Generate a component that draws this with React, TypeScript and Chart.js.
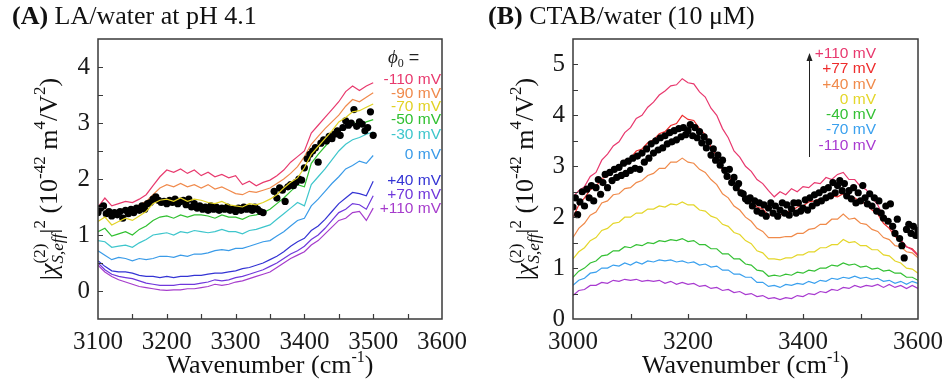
import React, { useEffect, useRef } from 'react';
import { Chart, registerables } from 'chart.js';
Chart.register(...registerables);

const SERIF = '"Liberation Serif", "Times New Roman", Times, serif';
const SANS = '"Liberation Sans", Arial, Helvetica, sans-serif';

// ---------- Panel A data (LA/water at pH 4.1), x = 3100..3500 step 10 ----------
const A_START = 3100, A_END = 3500, A_STEP = 10;
const aXTicks = [3100, 3200, 3300, 3400, 3500, 3600];
const aYTicks = [0, 1, 2, 3, 4];
const aLabels = ['-110 mV', '-90 mV', '-70 mV', '-50 mV', '-30 mV', '0 mV', '+40 mV', '+70 mV', '+110 mV'];
const aColors = ['#e83a6e', '#f08a4c', '#e2d224', '#30c030', '#3ec6cc', '#3a9be8', '#3434d4', '#7038dc', '#a63ccc'];
const aM110 = [1.50, 1.66, 1.52, 1.56, 1.60, 1.58, 1.64, 1.72, 1.88, 2.04, 2.16, 2.12, 2.18, 2.10, 2.16, 2.06, 2.12, 2.04, 2.08, 2.02, 2.06, 1.90, 1.96, 1.88, 1.94, 1.98, 2.06, 2.16, 2.30, 2.40, 2.50, 2.82, 2.96, 3.10, 3.24, 3.38, 3.56, 3.66, 3.58, 3.66, 3.72];
const aM90 = [1.40, 1.48, 1.36, 1.44, 1.48, 1.46, 1.54, 1.60, 1.72, 1.84, 1.90, 1.86, 1.92, 1.86, 1.90, 1.84, 1.90, 1.82, 1.86, 1.80, 1.74, 1.72, 1.78, 1.76, 1.80, 1.84, 1.92, 2.00, 2.10, 2.22, 2.40, 2.62, 2.76, 2.90, 3.02, 3.14, 3.30, 3.42, 3.38, 3.46, 3.54];
const aM70 = [1.24, 1.32, 1.18, 1.24, 1.30, 1.26, 1.34, 1.42, 1.56, 1.62, 1.64, 1.60, 1.66, 1.60, 1.64, 1.62, 1.58, 1.56, 1.60, 1.54, 1.52, 1.50, 1.56, 1.54, 1.58, 1.64, 1.72, 1.84, 1.94, 2.02, 2.20, 2.44, 2.58, 2.72, 2.86, 3.02, 3.10, 3.20, 3.22, 3.28, 3.34];
const aM50 = [1.06, 1.12, 0.98, 1.02, 1.06, 1.00, 1.10, 1.16, 1.26, 1.32, 1.34, 1.30, 1.36, 1.32, 1.36, 1.36, 1.34, 1.30, 1.36, 1.32, 1.32, 1.28, 1.34, 1.36, 1.40, 1.46, 1.56, 1.66, 1.78, 1.90, 1.86, 2.28, 2.44, 2.58, 2.72, 2.86, 2.94, 3.02, 2.96, 3.02, 3.06];
const aM30 = [0.90, 0.88, 0.78, 0.80, 0.82, 0.78, 0.86, 0.92, 1.00, 1.02, 1.04, 1.00, 1.06, 1.04, 1.08, 1.06, 1.04, 1.06, 1.10, 1.06, 1.06, 1.02, 1.08, 1.10, 1.14, 1.18, 1.28, 1.38, 1.48, 1.58, 1.52, 1.90, 2.04, 2.18, 2.34, 2.50, 2.62, 2.70, 2.74, 2.80, 2.84];
const aZero = [0.72, 0.64, 0.56, 0.60, 0.58, 0.54, 0.58, 0.56, 0.58, 0.62, 0.62, 0.60, 0.64, 0.62, 0.66, 0.66, 0.68, 0.72, 0.74, 0.72, 0.76, 0.76, 0.80, 0.84, 0.88, 0.90, 0.98, 1.06, 1.16, 1.26, 1.30, 1.52, 1.64, 1.78, 1.92, 2.04, 2.18, 2.24, 2.32, 2.28, 2.42];
const aP40 = [0.54, 0.44, 0.36, 0.34, 0.34, 0.32, 0.28, 0.26, 0.26, 0.24, 0.26, 0.24, 0.26, 0.26, 0.28, 0.28, 0.30, 0.32, 0.32, 0.34, 0.36, 0.40, 0.42, 0.46, 0.50, 0.56, 0.62, 0.70, 0.80, 0.88, 0.94, 1.08, 1.16, 1.28, 1.42, 1.56, 1.66, 1.76, 1.74, 1.70, 1.96];
const aP70 = [0.50, 0.38, 0.30, 0.26, 0.24, 0.22, 0.18, 0.14, 0.12, 0.10, 0.10, 0.10, 0.12, 0.12, 0.12, 0.14, 0.16, 0.20, 0.18, 0.20, 0.24, 0.26, 0.30, 0.34, 0.38, 0.44, 0.50, 0.58, 0.66, 0.72, 0.80, 0.92, 1.00, 1.12, 1.26, 1.40, 1.46, 1.56, 1.54, 1.46, 1.70];
const aP110 = [0.46, 0.34, 0.26, 0.20, 0.16, 0.12, 0.08, 0.06, 0.04, 0.02, 0.01, 0.02, 0.02, 0.04, 0.04, 0.06, 0.08, 0.12, 0.10, 0.12, 0.16, 0.18, 0.22, 0.26, 0.30, 0.34, 0.42, 0.50, 0.58, 0.64, 0.70, 0.82, 0.90, 1.02, 1.14, 1.26, 1.30, 1.40, 1.42, 1.26, 1.48];
// black dots, x = 3100..3500 step 4 (null = no point)
const DOT_A_START = 3100, DOT_A_END = 3500, DOT_A_STEP = 4;
const aDots = [
  1.40, 1.48, 1.52, 1.38, 1.42, 1.34, 1.40, 1.36, 1.42, 1.30,
  1.44, 1.38, 1.46, 1.40, 1.48, 1.44, 1.52, 1.46, 1.56, 1.58,
  1.64, 1.68, 1.62, 1.58, 1.60, 1.56, 1.62, 1.58, 1.64, 1.56,
  1.60, 1.62, 1.54, 1.64, 1.50, 1.56, 1.48, 1.52, 1.46, 1.50,
  1.44, 1.52, 1.46, 1.50, 1.44, 1.48, 1.46, 1.50, 1.44, 1.46,
  1.42, 1.48, 1.44, 1.50, 1.46, 1.48, 1.44, 1.50, 1.46, 1.42,
  1.40, null, null, null,
  1.78, 1.66, 1.84, 1.80, 1.60, 1.86, 1.90, 1.88, 1.94, 2.00,
  1.98, 2.20, 2.36, 2.44, 2.50, 2.56, 2.30, 2.64, 2.70, 2.68,
  2.76, 2.72, 2.80, 2.86, 2.78, 2.92, 3.04, 2.96, 3.00, 3.24,
  2.94, 3.02, 2.98, 2.86, 2.92, 3.20, 2.78
];

// ---------- Panel B data (CTAB/water), x = 3000..3600 step 10 ----------
const B_START = 3000, B_END = 3600, B_STEP = 10;
const bXTicks = [3000, 3200, 3400, 3600];
const bYTicks = [0, 1, 2, 3, 4, 5];
const bLabels = ['+110 mV', '+77 mV', '+40 mV', '0 mV', '-40 mV', '-70 mV', '-110 mV'];
const bColors = ['#e8386e', '#ee2c2c', '#f08a4a', '#e4d62a', '#34c034', '#3aa0ee', '#a83ad0'];
const bP110 = [2.40, 2.52, 2.60, 2.80, 2.88, 3.12, 3.24, 3.40, 3.48, 3.66, 3.76, 3.94, 4.00, 4.16, 4.26, 4.40, 4.48, 4.58, 4.60, 4.72, 4.64, 4.62, 4.46, 4.36, 4.14, 4.00, 3.74, 3.56, 3.30, 3.18, 3.00, 2.90, 2.74, 2.66, 2.52, 2.40, 2.50, 2.44, 2.56, 2.50, 2.60, 2.58, 2.68, 2.66, 2.78, 2.74, 2.84, 2.88, 2.74, 2.74, 2.60, 2.54, 2.38, 2.24, 2.02, 1.88, 1.64, 1.56, 1.42, 1.36, 1.24];
const bP77 = [2.00, 2.24, 2.38, 2.54, 2.60, 2.76, 2.80, 2.96, 3.00, 3.12, 3.16, 3.30, 3.34, 3.46, 3.52, 3.64, 3.68, 3.80, 3.84, 4.00, 3.92, 3.90, 3.74, 3.62, 3.38, 3.20, 2.92, 2.82, 2.64, 2.54, 2.40, 2.32, 2.20, 2.16, 2.04, 2.04, 2.04, 2.10, 2.12, 2.20, 2.22, 2.30, 2.32, 2.36, 2.36, 2.42, 2.40, 2.46, 2.38, 2.38, 2.30, 2.26, 2.14, 2.06, 1.88, 1.78, 1.62, 1.54, 1.42, 1.38, 1.26];
const bP40 = [1.60, 1.78, 1.88, 2.04, 2.10, 2.28, 2.32, 2.44, 2.46, 2.56, 2.58, 2.68, 2.72, 2.82, 2.86, 2.96, 2.96, 3.08, 3.08, 3.16, 3.08, 3.06, 2.94, 2.88, 2.74, 2.64, 2.46, 2.38, 2.22, 2.14, 2.00, 1.92, 1.78, 1.72, 1.60, 1.60, 1.60, 1.62, 1.62, 1.68, 1.68, 1.76, 1.78, 1.86, 1.86, 1.96, 1.96, 2.06, 1.96, 1.98, 1.88, 1.86, 1.76, 1.72, 1.60, 1.56, 1.44, 1.42, 1.32, 1.30, 1.20];
const bZero = [1.18, 1.32, 1.40, 1.54, 1.60, 1.74, 1.78, 1.88, 1.90, 2.00, 2.00, 2.08, 2.08, 2.16, 2.16, 2.22, 2.20, 2.26, 2.24, 2.30, 2.24, 2.24, 2.14, 2.12, 2.02, 1.98, 1.86, 1.82, 1.70, 1.66, 1.54, 1.48, 1.34, 1.30, 1.18, 1.18, 1.16, 1.20, 1.20, 1.26, 1.26, 1.32, 1.32, 1.40, 1.40, 1.46, 1.46, 1.56, 1.50, 1.52, 1.44, 1.44, 1.36, 1.36, 1.26, 1.24, 1.14, 1.10, 1.00, 0.98, 0.90];
const bM40 = [0.82, 0.94, 1.00, 1.10, 1.14, 1.24, 1.26, 1.34, 1.34, 1.42, 1.40, 1.46, 1.44, 1.50, 1.48, 1.54, 1.52, 1.56, 1.54, 1.58, 1.52, 1.54, 1.46, 1.46, 1.38, 1.38, 1.28, 1.28, 1.18, 1.18, 1.08, 1.06, 0.96, 0.94, 0.84, 0.86, 0.84, 0.88, 0.86, 0.92, 0.90, 0.96, 0.94, 1.00, 1.00, 1.06, 1.04, 1.10, 1.06, 1.08, 1.02, 1.04, 0.98, 1.00, 0.94, 0.96, 0.90, 0.90, 0.82, 0.82, 0.76];
const bM70 = [0.66, 0.76, 0.80, 0.90, 0.92, 1.00, 1.00, 1.06, 1.04, 1.10, 1.06, 1.12, 1.08, 1.14, 1.12, 1.16, 1.14, 1.16, 1.12, 1.14, 1.10, 1.12, 1.06, 1.08, 1.02, 1.04, 0.96, 0.96, 0.88, 0.88, 0.82, 0.82, 0.72, 0.72, 0.64, 0.66, 0.62, 0.68, 0.66, 0.70, 0.68, 0.74, 0.70, 0.76, 0.74, 0.80, 0.78, 0.82, 0.80, 0.84, 0.80, 0.82, 0.78, 0.80, 0.74, 0.76, 0.70, 0.74, 0.68, 0.74, 0.70];
const bM110 = [0.46, 0.56, 0.58, 0.66, 0.66, 0.72, 0.70, 0.76, 0.74, 0.78, 0.76, 0.78, 0.74, 0.76, 0.74, 0.76, 0.70, 0.74, 0.68, 0.72, 0.68, 0.70, 0.64, 0.66, 0.60, 0.62, 0.56, 0.58, 0.52, 0.54, 0.48, 0.50, 0.44, 0.46, 0.40, 0.42, 0.38, 0.42, 0.40, 0.46, 0.44, 0.50, 0.48, 0.54, 0.52, 0.58, 0.56, 0.62, 0.60, 0.66, 0.62, 0.66, 0.64, 0.68, 0.62, 0.68, 0.62, 0.66, 0.60, 0.66, 0.60];
const DOT_B_START = 3000, DOT_B_END = 3600, DOT_B_STEP = 4;
const bDots = [
  2.20, 2.38, 2.05, 2.30, 2.50, 2.22, 2.55, 2.38, 2.62, 2.32,
  2.58, 2.74, 2.45, 2.68, 2.84, 2.58, 2.88, 2.72, 2.94, 2.78,
  2.98, 2.82, 3.06, 2.86, 3.10, 2.92, 3.16, 2.96, 3.20, 2.94,
  3.26, 3.08, 3.34, 3.16, 3.44, 3.26, 3.50, 3.32, 3.56, 3.36,
  3.60, 3.44, 3.66, 3.48, 3.70, 3.52, 3.74, 3.58, 3.76, 3.62,
  3.70, 3.82, 3.60, 3.76, 3.56, 3.68, 3.46, 3.58, 3.36, 3.48,
  3.22, 3.34, 3.12, 3.22, 3.02, 3.12, 2.92, 2.80, 2.94, 2.68,
  2.78, 2.58, 2.66, 2.48, 2.46, 2.36, 2.32, 2.38, 2.22, 2.32,
  2.12, 2.28, 2.08, 2.24, 2.02, 2.18, 2.28, 2.08, 2.22, 2.02,
  2.14, 2.28, 2.08, 2.24, 2.04, 2.16, 2.28, 2.08, 2.28, 2.12,
  2.18, 2.34, 2.14, 2.38, 2.22, 2.44, 2.28, 2.48, 2.32, 2.54,
  2.38, 2.58, 2.42, 2.68, 2.48, 2.62, 2.72, 2.52, 2.66, 2.42,
  2.52, 2.36, 2.58, 2.28, 2.48, 2.32, 2.62, 2.38, 2.26, 2.46,
  2.22, 2.38, 2.12, 2.32, 2.08, 1.98, 2.22, 1.92, 2.26, 1.82,
  1.68, 1.96, 1.58, 1.44, 1.20, 1.76, 1.86, 1.68, 1.82, 1.64,
  1.74
];

// ---------- helpers ----------
function range(start: number, end: number, step: number) {
  const r: number[] = [];
  for (let v = start; v <= end + 1e-9; v += step) r.push(v);
  return r;
}
function zip(xs: number[], ys: (number | null)[]) {
  const n = Math.min(xs.length, ys.length);
  const out: { x: number; y: number | null }[] = [];
  for (let i = 0; i < n; i++) out.push({ x: xs[i], y: ys[i] });
  return out;
}

type Part = { t?: string; size?: number; dy?: number; italic?: boolean; bold?: boolean; family?: string; stack?: Part[] };
function fontOf(p: Part) {
  return `${p.italic ? 'italic ' : ''}${p.bold ? 'bold ' : ''}${p.size}px ${p.family || SERIF}`;
}
function partWidth(ctx: CanvasRenderingContext2D, p: Part): number {
  if (p.stack) return Math.max(...p.stack.map((s) => partWidth(ctx, s)));
  ctx.font = fontOf(p);
  return ctx.measureText(p.t || '').width;
}
function measureParts(ctx: CanvasRenderingContext2D, parts: Part[]) {
  return parts.reduce((w, p) => w + partWidth(ctx, p), 0);
}
function drawParts(ctx: CanvasRenderingContext2D, parts: Part[], x: number, y: number) {
  for (const p of parts) {
    if (p.stack) {
      for (const s of p.stack) {
        ctx.font = fontOf(s);
        ctx.fillText(s.t || '', x, y + (s.dy || 0));
      }
      x += partWidth(ctx, p);
    } else {
      ctx.font = fontOf(p);
      ctx.fillText(p.t || '', x, y + (p.dy || 0));
      x += ctx.measureText(p.t || '').width;
    }
  }
}

const F = 26;
const SUB = 17;
const yLabelParts: Part[] = [
  { t: '|', size: F },
  { t: 'χ', size: F, italic: true },
  { stack: [ { t: '(2)', size: SUB, dy: -12 }, { t: 'S,eff', size: SUB, italic: true, dy: 6 } ] },
  { t: '|', size: F },
  { t: '2', size: SUB, dy: -12 },
  { t: ' (10', size: F },
  { t: '-42', size: SUB, dy: -12 },
  { t: ' m', size: F },
  { t: '4', size: SUB, dy: -12 },
  { t: '/V', size: F },
  { t: '2', size: SUB, dy: -12 },
  { t: ')', size: F },
];
const xTitleParts: Part[] = [
  { t: 'Wavenumber (cm', size: 26 },
  { t: '-1', size: 16, dy: -11 },
  { t: ')', size: 26 },
];

type PanelCfg = {
  title: Part[];
  xMin: number; xMax: number; xTicks: number[]; xMinor: number;
  yMin: number; yMax: number; yTicks: number[]; yMinor: number;
  left: number; right: number; top: number; bottom: number;
  extra: (ctx: CanvasRenderingContext2D, chart: any) => void;
};

function makeDecor(cfg: PanelCfg) {
  return {
    id: 'decor',
    afterDraw(chart: any) {
      const ctx: CanvasRenderingContext2D = chart.ctx;
      const { left, right, top, bottom } = chart.chartArea;
      const xs = chart.scales.x;
      const ys = chart.scales.y;
      ctx.save();
      ctx.strokeStyle = '#3a3a3a';
      ctx.lineWidth = 1.5;
      ctx.strokeRect(left, top, right - left, bottom - top);
      ctx.lineWidth = 1.2;
      ctx.beginPath();
      for (let v = cfg.xMin + cfg.xMinor; v < cfg.xMax - 1e-9; v += cfg.xMinor) {
        const px = Math.round(xs.getPixelForValue(v)) + 0.5;
        ctx.moveTo(px, bottom);
        ctx.lineTo(px, bottom - 5);
      }
      for (let v = cfg.yMin + cfg.yMinor; v < cfg.yMax - 1e-9; v += cfg.yMinor) {
        const py = Math.round(ys.getPixelForValue(v)) + 0.5;
        ctx.moveTo(left, py);
        ctx.lineTo(left + 5, py);
      }
      ctx.stroke();
      ctx.fillStyle = '#111';
      ctx.textAlign = 'left';
      ctx.textBaseline = 'alphabetic';
      drawParts(ctx, cfg.title, 12, 24);
      const xw = measureParts(ctx, xTitleParts);
      drawParts(ctx, xTitleParts, (left + right) / 2 - xw / 2, 373);
      ctx.save();
      ctx.translate(57, (top + bottom) / 2);
      ctx.rotate(-Math.PI / 2);
      const yw = measureParts(ctx, yLabelParts);
      drawParts(ctx, yLabelParts, -yw / 2, 0);
      ctx.restore();
      cfg.extra(ctx, chart);
      ctx.restore();
    },
  };
}

function buildChart(canvas: HTMLCanvasElement, datasets: any[], cfg: PanelCfg) {
  return new Chart(canvas, {
    type: 'line',
    data: { datasets },
    options: {
      responsive: false,
      animation: false,
      devicePixelRatio: 1,
      layout: { padding: { left: 0, right: cfg.right, top: cfg.top, bottom: 0 } },
      plugins: { legend: { display: false }, tooltip: { enabled: false } },
      elements: { line: { tension: 0 } },
      scales: {
        x: {
          type: 'linear',
          min: cfg.xMin,
          max: cfg.xMax,
          afterFit: (s: any) => { s.height = cfg.bottom; },
          afterBuildTicks: (s: any) => { s.ticks = cfg.xTicks.map((v) => ({ value: v })); },
          grid: { display: false, drawTicks: false },
          border: { display: false },
          ticks: { color: '#1a1a1a', padding: 8, maxRotation: 0, autoSkip: false, font: { family: SERIF, size: 25 }, callback: (v: any) => String(v) },
        },
        y: {
          type: 'linear',
          min: cfg.yMin,
          max: cfg.yMax,
          afterFit: (s: any) => { s.width = cfg.left; },
          afterBuildTicks: (s: any) => { s.ticks = cfg.yTicks.map((v) => ({ value: v })); },
          grid: { display: false, drawTicks: false },
          border: { display: false },
          ticks: { color: '#1a1a1a', padding: 8, autoSkip: false, font: { family: SERIF, size: 25 }, callback: (v: any) => String(v) },
        },
      },
    } as any,
    plugins: [makeDecor(cfg)],
  });
}

function lineDs(label: string, color: string, xs: number[], ys: number[], order: number) {
  return { label, data: zip(xs, ys), borderColor: color, backgroundColor: color, borderWidth: 1.2, pointRadius: 0, order, fill: false };
}
function dotDs(label: string, xs: number[], ys: (number | null)[], order: number) {
  return { label, data: zip(xs, ys), showLine: false, pointRadius: 3.6, pointBackgroundColor: '#000', pointBorderWidth: 0, borderColor: '#000', backgroundColor: '#000', order };
}

export default function App() {
  const refA = useRef<HTMLCanvasElement>(null);
  const refB = useRef<HTMLCanvasElement>(null);

  useEffect(() => {
    const xa = range(A_START, A_END, A_STEP);
    const xda = range(DOT_A_START, DOT_A_END, DOT_A_STEP);
    const aSeries = [aM110, aM90, aM70, aM50, aM30, aZero, aP40, aP70, aP110];
    const dsA: any[] = aSeries.map((s, i) => lineDs(aLabels[i], aColors[i], xa, s, i === 2 ? 0 : 2));
    dsA.push(dotDs('data', xda, aDots, 1));

    const xb = range(B_START, B_END, B_STEP);
    const xdb = range(DOT_B_START, DOT_B_END, DOT_B_STEP);
    const bSeries = [bP110, bP77, bP40, bZero, bM40, bM70, bM110];
    const dsB: any[] = bSeries.map((s, i) => lineDs(bLabels[i], bColors[i], xb, s, 2));
    dsB.push(dotDs('data', xdb, bDots, 1));

    const aLegendY = [80, 94, 107, 120, 135, 155, 181, 195, 209];
    const bLegendY = [54, 69, 85, 100, 115, 130, 146];

    const chartA = buildChart(refA.current!, dsA, {
      title: [{ t: '(A)', size: 26, bold: true }, { t: ' LA/water at pH 4.1', size: 26 }],
      xMin: 3100, xMax: 3600, xTicks: aXTicks, xMinor: 50,
      yMin: -0.5, yMax: 4.5, yTicks: aYTicks, yMinor: 0.5,
      left: 98, right: 28, top: 39, bottom: 68,
      extra: (ctx) => {
        ctx.textBaseline = 'alphabetic';
        ctx.fillStyle = '#222';
        drawParts(ctx, [
          { t: 'ϕ', size: 19, italic: true },
          { t: '0', size: 12, dy: 4 },
          { t: ' =', size: 18, family: SANS },
        ], 388, 63);
        ctx.textAlign = 'right';
        ctx.textBaseline = 'middle';
        ctx.font = `15.5px ${SANS}`;
        aLabels.forEach((l, i) => {
          ctx.fillStyle = aColors[i];
          ctx.fillText(l, 441, aLegendY[i]);
        });
      },
    });

    const chartB = buildChart(refB.current!, dsB, {
      title: [{ t: '(B)', size: 26, bold: true }, { t: ' CTAB/water (10 μM)', size: 26 }],
      xMin: 3000, xMax: 3600, xTicks: bXTicks, xMinor: 100,
      yMin: 0, yMax: 5.5, yTicks: bYTicks, yMinor: 0.5,
      left: 97, right: 28, top: 39, bottom: 68,
      extra: (ctx) => {
        ctx.strokeStyle = '#222';
        ctx.fillStyle = '#222';
        ctx.lineWidth = 1;
        ctx.beginPath();
        ctx.moveTo(333.5, 157);
        ctx.lineTo(333.5, 60);
        ctx.stroke();
        ctx.beginPath();
        ctx.moveTo(333.5, 53);
        ctx.lineTo(330.5, 61);
        ctx.lineTo(336.5, 61);
        ctx.closePath();
        ctx.fill();
        ctx.textAlign = 'right';
        ctx.textBaseline = 'middle';
        ctx.font = `15.5px ${SANS}`;
        bLabels.forEach((l, i) => {
          ctx.fillStyle = bColors[i];
          ctx.fillText(l, 400, bLegendY[i]);
        });
      },
    });

    return () => {
      chartA.destroy();
      chartB.destroy();
    };
  }, []);

  return (
    <div style={{ position: 'fixed', left: 0, top: 0, width: 951, height: 387, background: '#fff' }}>
      <canvas ref={refA} width={475} height={387} style={{ position: 'absolute', left: 0, top: 0, width: 475, height: 387 }} />
      <canvas ref={refB} width={475} height={387} style={{ position: 'absolute', left: 476, top: 0, width: 475, height: 387 }} />
    </div>
  );
}
